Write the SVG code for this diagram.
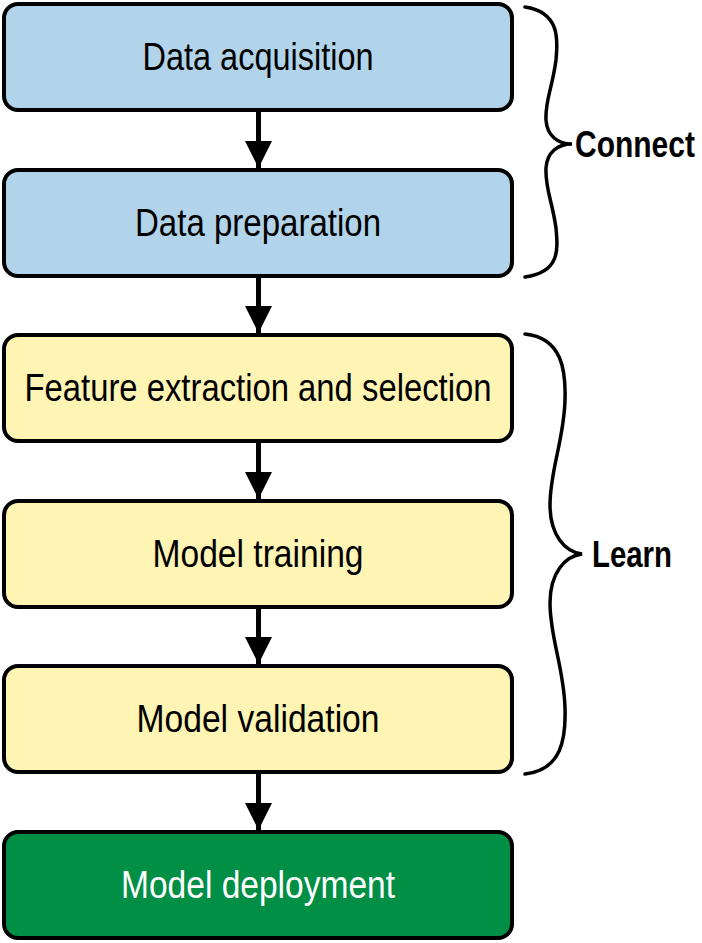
<svg xmlns="http://www.w3.org/2000/svg" width="702" height="943" viewBox="0 0 702 943">
<style>
.box{stroke:#000;stroke-width:4}
.blue{fill:#b1d4ea}
.yellow{fill:#fef4b3}
.green{fill:#008f45}
.t{font-family:"Liberation Sans",Arial,sans-serif;font-size:38px;text-anchor:middle;fill:#000}
.w{fill:#fff}
.lbl{font-family:"Liberation Sans",Arial,sans-serif;font-weight:bold;fill:#000}
.brace{fill:none;stroke:#000;stroke-width:3.5;stroke-linecap:round;stroke-linejoin:miter}
.ln{stroke:#000;stroke-width:5}
</style>
<defs>
<marker id="ah" markerWidth="30" markerHeight="27" refX="30" refY="15" viewBox="0 0 30 30" markerUnits="userSpaceOnUse" orient="auto">
<path d="M0,0 L30,15 L0,30 Z" fill="#000"/>
</marker>
</defs>
<g id="connectors">
<line class="ln" x1="258.5" y1="110" x2="258.5" y2="168" marker-end="url(#ah)"/>
<line class="ln" x1="258.5" y1="276" x2="258.5" y2="333" marker-end="url(#ah)"/>
<line class="ln" x1="258.5" y1="441" x2="258.5" y2="499" marker-end="url(#ah)"/>
<line class="ln" x1="258.5" y1="607" x2="258.5" y2="664" marker-end="url(#ah)"/>
<line class="ln" x1="258.5" y1="772" x2="258.5" y2="830" marker-end="url(#ah)"/>
</g>
<g id="n1"><rect class="box blue" x="4" y="4" width="508" height="106" rx="14"/><text class="t" x="258" y="70" textLength="231" lengthAdjust="spacingAndGlyphs">Data acquisition</text></g>
<g id="n2"><rect class="box blue" x="4" y="170" width="508" height="106" rx="14"/><text class="t" x="258" y="236" textLength="246" lengthAdjust="spacingAndGlyphs">Data preparation</text></g>
<g id="n3"><rect class="box yellow" x="4" y="335" width="508" height="106" rx="14"/><text class="t" x="258" y="401" textLength="467" lengthAdjust="spacingAndGlyphs">Feature extraction and selection</text></g>
<g id="n4"><rect class="box yellow" x="4" y="501" width="508" height="106" rx="14"/><text class="t" x="258" y="567" textLength="211" lengthAdjust="spacingAndGlyphs">Model training</text></g>
<g id="n5"><rect class="box yellow" x="4" y="666" width="508" height="106" rx="14"/><text class="t" x="258" y="732" textLength="243" lengthAdjust="spacingAndGlyphs">Model validation</text></g>
<g id="n6"><rect class="box green" x="4" y="832" width="508" height="106" rx="14"/><text class="t w" x="258" y="898" textLength="274" lengthAdjust="spacingAndGlyphs">Model deployment</text></g>
<g id="connect">
<path class="brace" d="M525,7 C560,12 558,40 556,60 C552,90 545,100 546,120 C547,136 558,144 572,144 C558,144 547,152 546,168 C545,188 552,200 556,228 C558,250 560,272 525,277"/>
<text class="lbl" font-size="30" transform="translate(575,157) scale(1,1.25)">Connect</text>
</g>
<g id="learn">
<path class="brace" d="M525,334 C562,338 566,370 565,400 C564,440 550,470 550,505 C550,535 565,552 582,554 C565,556 550,573 550,603 C550,638 564,668 565,708 C566,738 562,770 525,774"/>
<text class="lbl" x="592" y="567" font-size="37" textLength="80" lengthAdjust="spacingAndGlyphs">Learn</text>
</g>
</svg>
